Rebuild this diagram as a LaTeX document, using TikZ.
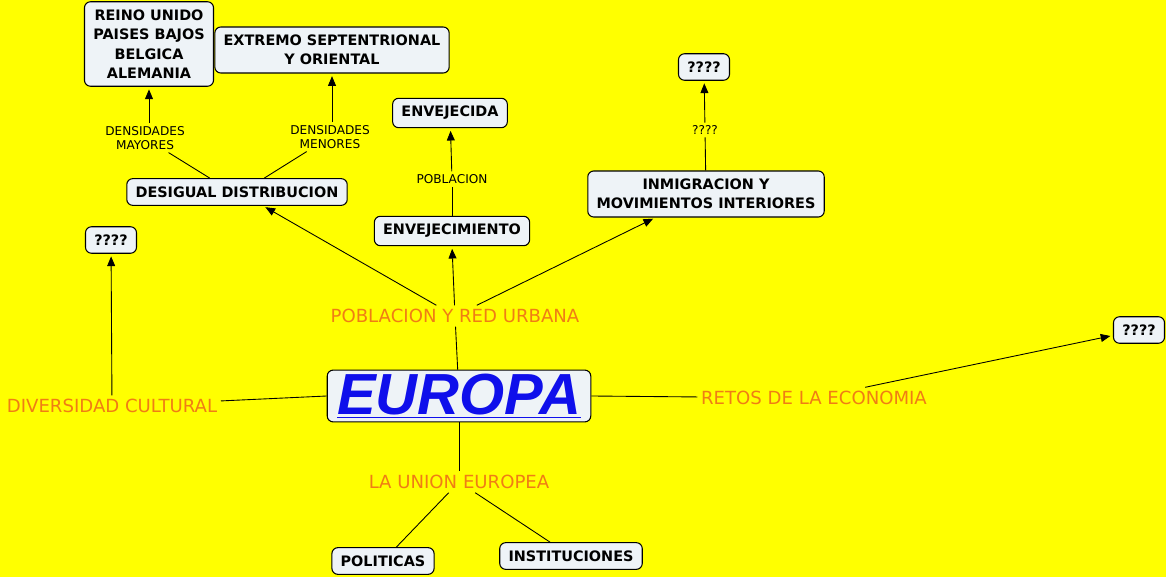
\documentclass[tikz,border=0pt]{standalone}
\usepackage{fontspec}
\setmainfont{DejaVu Sans}
\newfontfamily\titlefont{Liberation Sans}
\usetikzlibrary{arrows.meta}
\definecolor{fondo}{RGB}{255,255,0}
\definecolor{caja}{RGB}{238,243,247}
\definecolor{naranja}{RGB}{240,125,20}
\definecolor{azul}{RGB}{15,15,235}

\begin{document}
\begin{tikzpicture}[
        x=0.02cm, y=-0.02cm,
        concepto/.style={rectangle, draw, rounded corners=3.4pt, fill=caja, align=center, font=\fontsize{8.2}{11}\selectfont\bfseries, inner xsep=5pt, inner ysep=4.5pt, line width=0.6pt},
        enlace/.style={text=naranja, font=\fontsize{10.3}{12}\selectfont, inner sep=2pt},
        rotulo/.style={font=\fontsize{6.9}{8}\selectfont, align=center, inner sep=1.5pt},
        linea/.style={line width=0.5pt},
        flecha/.style={-{Triangle[length=5.5pt,width=4.5pt]}, line width=0.5pt, shorten >=1.5pt}
    ]
        % Background
        \fill[fondo] (0,0) rectangle (1166,577);
        \useasboundingbox (0,0) rectangle (1166,577);

        % Central concept
        \node[concepto, inner sep=0pt, minimum width=150pt, minimum height=29.5pt,
              font=\titlefont\bfseries\itshape\fontsize{33}{36}\selectfont, text=azul] (europa) at (459,396) {\underline{EUROPA}};

        % Linking phrases
        \node[enlace] (pob) at (455,316) {POBLACION Y RED URBANA};
        \node[enlace] (div) at (112,406) {DIVERSIDAD CULTURAL};
        \node[enlace] (retos) at (814,398) {RETOS DE LA ECONOMIA};
        \node[enlace] (union) at (459,482) {LA UNION EUROPEA};

        % Population branch
        \node[concepto] (desig) at (237,192) {DESIGUAL DISTRIBUCION};
        \node[concepto] (envjto) at (452,231) {ENVEJECIMIENTO};
        \node[concepto] (inmig) at (706,194) {INMIGRACION Y\\MOVIMIENTOS INTERIORES};
        \node[concepto] (reino) at (149,44) {REINO UNIDO\\PAISES BAJOS\\BELGICA\\ALEMANIA};
        \node[concepto] (extremo) at (332,50) {EXTREMO SEPTENTRIONAL\\Y ORIENTAL};
        \node[concepto] (envjda) at (450,113) {ENVEJECIDA};
        \node[concepto] (q1) at (704,67) {????};

        \node[rotulo] (dmay) at (145,138) {DENSIDADES\\MAYORES};
        \node[rotulo] (dmen) at (330,137) {DENSIDADES\\MENORES};
        \node[rotulo] (pobl) at (452,179) {POBLACION};
        \node[rotulo] (qlab) at (705,130) {????};

        % Other branches
        \node[concepto] (q2) at (111,240) {????};
        \node[concepto] (q3) at (1139,330) {????};
        \node[concepto] (pol) at (383,561) {POLITICAS};
        \node[concepto] (inst) at (571,556) {INSTITUCIONES};

        % Connectors from the centre
        \draw[linea] (europa) -- (pob);
        \draw[linea] (europa.west) -- (div);
        \draw[linea] (europa.east) -- (retos);
        \draw[linea] (europa) -- (union);

        % Arrows
        \draw[flecha] (pob) -- (desig.-28);
        \draw[flecha] (pob) -- (envjto.south);
        \draw[flecha] (pob) -- (inmig.-155);
        \draw[flecha] (div) -- (q2);
        \draw[flecha] (retos) -- (q3);
        \draw[linea] (union) -- (pol);
        \draw[linea] (union) -- (inst);

        \draw[linea] (desig.153) -- (dmay);
        \draw[flecha] (dmay.north -| reino.south) -- (reino.south);
        \draw[linea] (desig.27) -- (dmen);
        \draw[flecha] (dmen.north -| extremo.south) -- (extremo.south);
        \draw[linea] (envjto) -- (pobl);
        \draw[flecha] (pobl) -- (envjda);
        \draw[linea] (inmig) -- (qlab);
        \draw[flecha] (qlab) -- (q1);
    \end{tikzpicture}
\end{document}
